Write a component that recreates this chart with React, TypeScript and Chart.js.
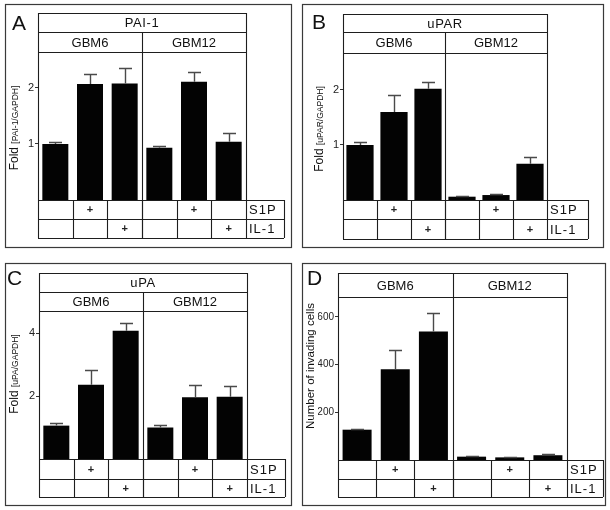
import React, { useEffect, useRef } from 'react';
import { Chart, registerables } from 'chart.js';

Chart.register(...registerables);

// ---------- data ----------
const categories = ['GBM6 control', 'GBM6 S1P', 'GBM6 IL-1', 'GBM12 control', 'GBM12 S1P', 'GBM12 IL-1'];
const groupLabels = ['GBM6', 'GBM12'];
const s1pRow = ['', '+', '', '', '+', ''];
const il1Row = ['', '', '+', '', '', '+'];
const rowLabels = ['S1P', 'IL-1'];

const paiValues = [1.0, 2.07, 2.08, 0.93, 2.11, 1.04];
const paiErrors = [0.03, 0.18, 0.28, 0.03, 0.18, 0.16];
const paiTicks = [1, 2];

const uparValues = [1.0, 1.6, 2.02, 0.06, 0.09, 0.66];
const uparErrors = [0.05, 0.31, 0.12, 0.01, 0.02, 0.12];
const uparTicks = [1, 2];

const upaValues = [1.06, 2.36, 4.07, 1.0, 1.96, 1.98];
const upaErrors = [0.07, 0.47, 0.24, 0.08, 0.39, 0.34];
const upaTicks = [2, 4];

const invasionValues = [127, 380, 538, 14, 11, 20];
const invasionErrors = [4, 80, 77, 3, 3, 5];
const invasionTicks = [200, 400, 600];

// ---------- layout / style ----------
const FONT = '"Liberation Sans", Arial, Helvetica, sans-serif';
const AXIS_W = 20;

type Panel = {
  letter: string;
  title?: string;
  yTitleMain: string;
  yTitleSub: string;
  values: number[];
  errors: number[];
  ticks: number[];
  yMax: number;
  canvas: { x: number; y: number; w: number; h: number };
  box: [number, number, number, number];
  letterPos: [number, number];
  rows: number[];
  plot: { left: number; right: number; bottom: number };
  table: { rows: [number, number, number]; right: number };
  yTitleX: number;
  yTitleY: number;
  yTitleSize: number;
  barPct: number;
  tickSize: number;
};

const panels: Panel[] = [
  {
    letter: 'A', title: 'PAI-1', yTitleMain: 'Fold ', yTitleSub: '[PAI-1/GAPDH]',
    values: paiValues, errors: paiErrors, ticks: paiTicks, yMax: 2.64,
    canvas: { x: 0, y: 0, w: 300, h: 255 },
    box: [5, 4, 291, 247], letterPos: [12, 30],
    rows: [13, 32, 52],
    plot: { left: 38, right: 246, bottom: 200 },
    table: { rows: [200, 219, 238], right: 284 },
    yTitleX: 15, yTitleY: 128, yTitleSize: 12, barPct: 0.75, tickSize: 11,
  },
  {
    letter: 'B', title: 'uPAR', yTitleMain: 'Fold ', yTitleSub: '[uPAR/GAPDH]',
    values: uparValues, errors: uparErrors, ticks: uparTicks, yMax: 2.67,
    canvas: { x: 296, y: 0, w: 314, h: 255 },
    box: [302, 4, 603, 247], letterPos: [312, 29],
    rows: [14, 32, 53],
    plot: { left: 343, right: 547, bottom: 200 },
    table: { rows: [200, 219, 239], right: 588 },
    yTitleX: 320, yTitleY: 129, yTitleSize: 12, barPct: 0.8, tickSize: 11,
  },
  {
    letter: 'C', title: 'uPA', yTitleMain: 'Fold ', yTitleSub: '[uPA/GAPDH]',
    values: upaValues, errors: upaErrors, ticks: upaTicks, yMax: 4.7,
    canvas: { x: 0, y: 255, w: 300, h: 255 },
    box: [5, 263, 291, 505], letterPos: [7, 285],
    rows: [273, 292, 311],
    plot: { left: 39, right: 247, bottom: 459 },
    table: { rows: [459, 479, 497], right: 285 },
    yTitleX: 15, yTitleY: 374, yTitleSize: 12, barPct: 0.75, tickSize: 11,
  },
  {
    letter: 'D', yTitleMain: 'Number of invading cells', yTitleSub: '',
    values: invasionValues, errors: invasionErrors, ticks: invasionTicks, yMax: 683,
    canvas: { x: 296, y: 255, w: 314, h: 255 },
    box: [302, 263, 605, 505], letterPos: [307, 285],
    rows: [273, 297],
    plot: { left: 338, right: 567, bottom: 460 },
    table: { rows: [460, 479, 497], right: 603 },
    yTitleX: 311, yTitleY: 366, yTitleSize: 11.5, barPct: 0.76, tickSize: 10,
  },
];

const crisp = (v: number) => Math.round(v) + 0.5;

function line(ctx: CanvasRenderingContext2D, x1: number, y1: number, x2: number, y2: number) {
  ctx.beginPath();
  if (x1 === x2) {
    ctx.moveTo(crisp(x1), y1);
    ctx.lineTo(crisp(x2), y2);
  } else if (y1 === y2) {
    ctx.moveTo(x1, crisp(y1));
    ctx.lineTo(x2, crisp(y2));
  } else {
    ctx.moveTo(x1, y1);
    ctx.lineTo(x2, y2);
  }
  ctx.stroke();
}

function makePlugin(p: Panel) {
  return {
    id: 'panelDecor' + p.letter,
    afterDatasetsDraw(chart: any) {
      const ctx: CanvasRenderingContext2D = chart.ctx;
      const yScale = chart.scales.y;
      const meta = chart.getDatasetMeta(0);
      // error bars (canvas coords)
      ctx.save();
      ctx.strokeStyle = '#4a4a4a';
      ctx.lineWidth = 1.4;
      meta.data.forEach((bar: any, i: number) => {
        const x = Math.round(bar.x) + 0.5;
        const yTop = bar.y;
        const yErr = yScale.getPixelForValue(p.values[i] + p.errors[i]);
        const cap = 6.5;
        ctx.beginPath();
        ctx.moveTo(x, yTop);
        ctx.lineTo(x, Math.round(yErr) + 0.5);
        ctx.moveTo(x - cap, Math.round(yErr) + 0.5);
        ctx.lineTo(x + cap, Math.round(yErr) + 0.5);
        ctx.stroke();
      });
      ctx.restore();
    },
    afterDraw(chart: any) {
      const ctx: CanvasRenderingContext2D = chart.ctx;
      const ca = chart.chartArea;
      const ox = p.canvas.x;
      const oy = p.canvas.y;
      const L = ca.left + ox;
      const R = ca.right + ox;
      const n = categories.length;
      const step = (R - L) / n;
      const mid = L + step * (n / 2);
      const [tTop, tMid, tBot] = p.table.rows;
      const TR = p.table.right;

      ctx.save();
      ctx.translate(-ox, -oy);

      // panel border
      ctx.strokeStyle = '#3a3a3a';
      ctx.lineWidth = 1.2;
      const [bl, bt, br, bb] = p.box;
      ctx.strokeRect(crisp(bl), crisp(bt), br - bl, bb - bt);

      ctx.strokeStyle = '#1e1e1e';
      ctx.lineWidth = 1.1;
      const top = p.rows[0];
      // header horizontal lines
      p.rows.forEach((y) => line(ctx, L, y, R, y));
      // outer verticals of plot column
      line(ctx, L, top, L, tBot);
      line(ctx, R, top, R, tBot);
      // group divider
      const divTop = p.rows[p.rows.length - 2];
      line(ctx, mid, divTop, mid, tBot);
      // table
      line(ctx, L, tTop, TR, tTop);
      line(ctx, L, tMid, TR, tMid);
      line(ctx, L, tBot, TR, tBot);
      for (let i = 1; i < n; i++) line(ctx, L + step * i, tTop, L + step * i, tBot);
      line(ctx, TR, tTop, TR, tBot);

      // texts
      ctx.fillStyle = '#111';
      ctx.textAlign = 'left';
      ctx.textBaseline = 'alphabetic';
      ctx.font = `21px ${FONT}`;
      ctx.fillText(p.letter, p.letterPos[0], p.letterPos[1]);

      ctx.textAlign = 'center';
      ctx.textBaseline = 'middle';
      ctx.font = `13px ${FONT}`;
      const rl = p.rows.length;
      if (p.title && rl === 3) {
        (ctx as any).letterSpacing = '0.6px';
        ctx.fillText(p.title, (L + R) / 2, (p.rows[0] + p.rows[1]) / 2 + 1);
        (ctx as any).letterSpacing = '0px';
      }
      const gTop = p.rows[rl - 2];
      const gBot = p.rows[rl - 1];
      ctx.fillText(groupLabels[0], (L + mid) / 2, (gTop + gBot) / 2 + 1);
      ctx.fillText(groupLabels[1], (mid + R) / 2, (gTop + gBot) / 2 + 1);

      // table marks
      ctx.font = `bold 11px ${FONT}`;
      ctx.fillStyle = '#222';
      for (let i = 0; i < n; i++) {
        const cx = L + step * (i + 0.5);
        if (s1pRow[i]) ctx.fillText(s1pRow[i], cx, (tTop + tMid) / 2 + 0.5);
        if (il1Row[i]) ctx.fillText(il1Row[i], cx, (tMid + tBot) / 2 + 0.5);
      }
      ctx.textAlign = 'left';
      ctx.fillStyle = '#111';
      ctx.font = `13px ${FONT}`;
      (ctx as any).letterSpacing = '1px';
      ctx.fillText(rowLabels[0], R + 3, (tTop + tMid) / 2 + 1);
      ctx.fillText(rowLabels[1], R + 3, (tMid + tBot) / 2 + 1);
      (ctx as any).letterSpacing = '0px';

      // y title (rotated)
      ctx.save();
      ctx.translate(p.yTitleX, p.yTitleY);
      ctx.rotate(-Math.PI / 2);
      ctx.textBaseline = 'middle';
      ctx.textAlign = 'left';
      const mainFont = `${p.yTitleSize}px ${FONT}`;
      if (p.yTitleSub) {
        ctx.font = mainFont;
        const w1 = ctx.measureText(p.yTitleMain).width;
        ctx.font = `8.5px ${FONT}`;
        const w2 = ctx.measureText(p.yTitleSub).width;
        const start = -(w1 + w2) / 2;
        ctx.font = mainFont;
        ctx.fillText(p.yTitleMain, start, 0);
        ctx.font = `8.5px ${FONT}`;
        ctx.fillText(p.yTitleSub, start + w1, 0.5);
      } else {
        ctx.font = mainFont;
        ctx.textAlign = 'center';
        ctx.fillText(p.yTitleMain, 0, 0);
      }
      ctx.restore();

      ctx.restore();
    },
  };
}

function PanelChart({ p }: { p: Panel }) {
  const ref = useRef<HTMLCanvasElement>(null);
  useEffect(() => {
    const ox = p.canvas.x;
    const oy = p.canvas.y;
    const plotTop = p.rows[p.rows.length - 1];
    const chart = new Chart(ref.current as HTMLCanvasElement, {
      type: 'bar',
      data: {
        labels: categories,
        datasets: [
          {
            data: p.values,
            backgroundColor: '#030303',
            borderWidth: 0,
            barPercentage: p.barPct,
            categoryPercentage: 1,
          },
        ],
      },
      options: {
        responsive: false,
        animation: false,
        events: [],
        layout: {
          autoPadding: false,
          padding: {
            left: p.plot.left - ox - AXIS_W,
            right: p.canvas.w - (p.plot.right - ox),
            top: plotTop - oy,
            bottom: p.canvas.h - (p.plot.bottom - oy),
          },
        },
        plugins: { legend: { display: false }, tooltip: { enabled: false } },
        scales: {
          x: { display: false, grid: { display: false } },
          y: {
            min: 0,
            max: p.yMax,
            afterFit: (s: any) => {
              s.width = AXIS_W;
            },
            afterBuildTicks: (s: any) => {
              s.ticks = p.ticks.map((v) => ({ value: v }));
            },
            grid: { drawOnChartArea: false, drawTicks: true, tickLength: 3, color: '#333', lineWidth: 1 },
            border: { display: true, color: '#1e1e1e', width: 1 },
            ticks: { color: '#222', font: { family: FONT, size: p.tickSize }, padding: 1 },
          },
        },
      },
      plugins: [makePlugin(p)],
    } as any);
    return () => chart.destroy();
  }, [p]);
  return (
    <canvas
      ref={ref}
      width={p.canvas.w}
      height={p.canvas.h}
      style={{ position: 'absolute', left: p.canvas.x, top: p.canvas.y, width: p.canvas.w, height: p.canvas.h }}
    />
  );
}

export default function App() {
  return (
    <div style={{ position: 'absolute', left: 0, top: 0, width: 610, height: 510, background: '#fff', overflow: 'hidden' }}>
      {panels.map((p) => (
        <PanelChart key={p.letter} p={p} />
      ))}
    </div>
  );
}
